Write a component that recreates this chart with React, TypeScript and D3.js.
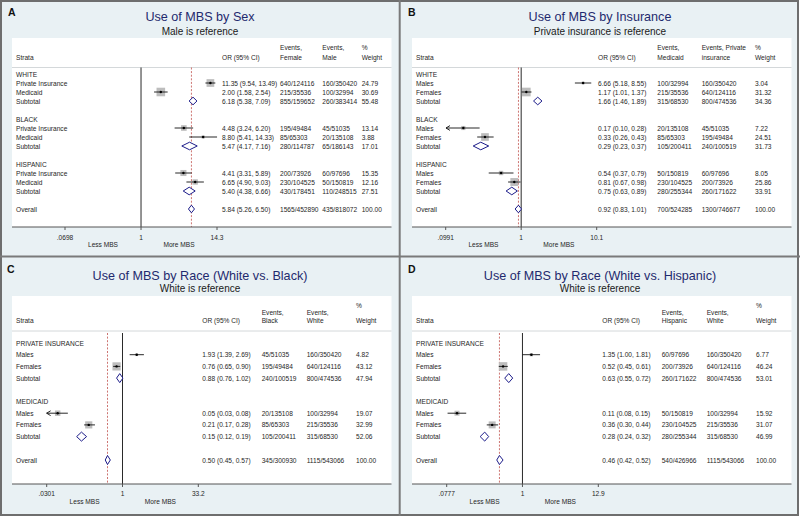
import React from "react";
import * as d3 from "d3";

// A: use of MBS by sex (male is reference)
const sexGroups = ["WHITE", "BLACK", "HISPANIC"];
const sexStrata = ["Private Insurance", "Medicaid", "Subtotal"];
const sexOR = [11.35, 2.0, 6.18, 4.48, 8.8, 5.47, 4.41, 6.65, 5.4, 5.84];
const sexLo = [9.54, 1.58, 5.38, 3.24, 5.41, 4.17, 3.31, 4.9, 4.38, 5.26];
const sexHi = [13.49, 2.54, 7.09, 6.2, 14.33, 7.16, 5.89, 9.03, 6.66, 6.5];
const sexEv1 = ["640/124116", "215/35536", "855/159652", "195/49484", "85/65303", "280/114787", "200/73926", "230/104525", "430/178451", "1565/452890"];
const sexEv2 = ["160/350420", "100/32994", "260/383414", "45/51035", "20/135108", "65/186143", "60/97696", "50/150819", "110/248515", "435/818072"];
const sexWeight = [24.79, 30.69, 55.48, 13.14, 3.88, 17.01, 15.35, 12.16, 27.51, 100];
const sexArrow = [false, false, false, false, false, false, false, false, false, false];
const sexTicks = [0.0698, 1, 14.3];
const sexTickLabels = [".0698", "1", "14.3"];

// B: use of MBS by insurance (private insurance is reference)
const insGroups = ["WHITE", "BLACK", "HISPANIC"];
const insStrata = ["Males", "Females", "Subtotal"];
const insOR = [6.66, 1.17, 1.66, 0.17, 0.33, 0.29, 0.54, 0.81, 0.75, 0.92];
const insLo = [5.18, 1.01, 1.46, 0.1, 0.26, 0.23, 0.37, 0.67, 0.63, 0.83];
const insHi = [8.55, 1.37, 1.89, 0.28, 0.43, 0.37, 0.79, 0.98, 0.89, 1.01];
const insEv1 = ["100/32994", "215/35536", "315/68530", "20/135108", "85/65303", "105/200411", "50/150819", "230/104525", "280/255344", "700/524285"];
const insEv2 = ["160/350420", "640/124116", "800/474536", "45/51035", "195/49484", "240/100519", "60/97696", "200/73926", "260/171622", "1300/746677"];
const insWeight = [3.04, 31.32, 34.36, 7.22, 24.51, 31.73, 8.05, 25.86, 33.91, 100];
const insArrow = [false, false, false, true, false, false, false, false, false, false];
const insTicks = [0.0991, 1, 10.1];
const insTickLabels = [".0991", "1", "10.1"];

// C: use of MBS by race, white vs. black (white is reference)
const blkGroups = ["PRIVATE INSURANCE", "MEDICAID"];
const blkStrata = ["Males", "Females", "Subtotal"];
const blkOR = [1.93, 0.76, 0.88, 0.05, 0.21, 0.15, 0.5];
const blkLo = [1.39, 0.65, 0.76, 0.03, 0.17, 0.12, 0.45];
const blkHi = [2.69, 0.9, 1.02, 0.08, 0.28, 0.19, 0.57];
const blkEv1 = ["45/51035", "195/49484", "240/100519", "20/135108", "85/65303", "105/200411", "345/300930"];
const blkEv2 = ["160/350420", "640/124116", "800/474536", "100/32994", "215/35536", "315/68530", "1115/543066"];
const blkWeight = [4.82, 43.12, 47.94, 19.07, 32.99, 52.06, 100];
const blkArrow = [false, false, false, true, false, false, false];
const blkTicks = [0.0301, 1, 33.2];
const blkTickLabels = [".0301", "1", "33.2"];

// D: use of MBS by race, white vs. hispanic (white is reference)
const hisGroups = ["PRIVATE INSURANCE", "MEDICAID"];
const hisStrata = ["Males", "Females", "Subtotal"];
const hisOR = [1.35, 0.52, 0.63, 0.11, 0.36, 0.28, 0.46];
const hisLo = [1.0, 0.45, 0.55, 0.08, 0.3, 0.24, 0.42];
const hisHi = [1.81, 0.61, 0.72, 0.15, 0.44, 0.32, 0.52];
const hisEv1 = ["60/97696", "200/73926", "260/171622", "50/150819", "230/104525", "280/255344", "540/426966"];
const hisEv2 = ["160/350420", "640/124116", "800/474536", "100/32994", "215/35536", "315/68530", "1115/543066"];
const hisWeight = [6.77, 46.24, 53.01, 15.92, 31.07, 46.99, 100];
const hisArrow = [false, false, false, false, false, false, false];
const hisTicks = [0.0777, 1, 12.9];
const hisTickLabels = [".0777", "1", "12.9"];

const FONT = "'Liberation Sans', Arial, sans-serif";
const BG = "#e9f1f4";
const NAVY = "#1f2a6e";
const DIAMOND = "#1c1c8a";
const TXT = "#262626";

type Row = {
  kind: "group" | "study" | "sub" | "blank" | "overall";
  label?: string;
  or?: number;
  lo?: number;
  hi?: number;
  ev1?: string;
  ev2?: string;
  wt?: number;
  arrow?: boolean;
};

function buildRows(groups, strata, or, lo, hi, ev1, ev2, wt, arrow): Row[] {
  const rows: Row[] = [];
  let k = 0;
  const item = (kind, label) => {
    rows.push({ kind, label, or: or[k], lo: lo[k], hi: hi[k], ev1: ev1[k], ev2: ev2[k], wt: wt[k], arrow: arrow[k] });
    k++;
  };
  groups.forEach((g) => {
    rows.push({ kind: "group", label: g });
    strata.forEach((s, j) => item(j === strata.length - 1 ? "sub" : "study", s));
    rows.push({ kind: "blank" });
  });
  item("overall", "Overall");
  return rows;
}

const topGeo = { titleY: 16.7, subY: 31, letterY: 11.5, whiteTop: 38, sepY: 67.5, h1: 47, h2: 57, pct: 47, row0: 74, step: 9, axisY: 227, tickY: 237, favY: 244, box: 1.55, dh: 3.8, lineTop: 67.5 };
const botGeo = { titleY: 275.7, subY: 288, letterY: 268.5, whiteTop: 296, sepY: 331, h1: 312.3, h2: 320.7, pct: 305, row0: 343, step: 11.7, axisY: 484, tickY: 493, favY: 501.7, box: 1.25, dh: 4.5, lineTop: 333 };

const panels = [
  {
    letter: "A", px: 0, geo: topGeo, title: "Use of MBS by Sex", subtitle: "Male is reference",
    headers: [["", "Strata"], ["", "OR (95% CI)"], ["Events,", "Female"], ["Events,", "Male"], ["%", "Weight"]],
    cols: [16, 222, 280, 322.3, 361.7], xr: [65, 217],
    rows: buildRows(sexGroups, sexStrata, sexOR, sexLo, sexHi, sexEv1, sexEv2, sexWeight, sexArrow),
    ticks: sexTicks, tickLabels: sexTickLabels,
  },
  {
    letter: "B", px: 400, geo: topGeo, title: "Use of MBS by Insurance", subtitle: "Private insurance is reference",
    headers: [["", "Strata"], ["", "OR (95% CI)"], ["Events,", "Medicaid"], ["Events, Private", "insurance"], ["%", "Weight"]],
    cols: [416, 598, 657.3, 701.7, 755], xr: [445.7, 596.7],
    rows: buildRows(insGroups, insStrata, insOR, insLo, insHi, insEv1, insEv2, insWeight, insArrow),
    ticks: insTicks, tickLabels: insTickLabels,
  },
  {
    letter: "C", px: 0, geo: botGeo, title: "Use of MBS by Race (White vs. Black)", subtitle: "White is reference",
    headers: [["", "Strata"], ["", "OR (95% CI)"], ["Events,", "Black"], ["Events,", "White"], ["%", "Weight"]],
    cols: [16, 202.3, 261.7, 306.7, 356], xr: [46.7, 198.3],
    rows: buildRows(blkGroups, blkStrata, blkOR, blkLo, blkHi, blkEv1, blkEv2, blkWeight, blkArrow),
    ticks: blkTicks, tickLabels: blkTickLabels,
  },
  {
    letter: "D", px: 400, geo: botGeo, title: "Use of MBS by Race (White vs. Hispanic)", subtitle: "White is reference",
    headers: [["", "Strata"], ["", "OR (95% CI)"], ["Events,", "Hispanic"], ["Events,", "White"], ["%", "Weight"]],
    cols: [416, 602.3, 661.7, 706.7, 756], xr: [446.7, 598.3],
    rows: buildRows(hisGroups, hisStrata, hisOR, hisLo, hisHi, hisEv1, hisEv2, hisWeight, hisArrow),
    ticks: hisTicks, tickLabels: hisTickLabels,
  },
];

const fmt = d3.format(".2f");

function Panel({ p }) {
  const g = p.geo;
  const x = d3.scaleLog().domain([p.ticks[0], p.ticks[2]]).range(p.xr);
  const y = (i) => g.row0 + i * g.step;
  const overall = p.rows[p.rows.length - 1];
  const left = p.px + 12;
  const right = p.px + 391.5;
  const fs = 6.6;
  const txt = (tx, ty, s, extra = {}) => (
    <text x={tx} y={ty} fontSize={fs} fill={TXT} dominantBaseline="central" {...extra}>{s}</text>
  );

  return (
    <g fontFamily={FONT}>
      <text x={p.px + (p.letter === "C" ? 7 : 8)} y={g.letterY} fontSize={10.5} fontWeight="bold" fill="#111" dominantBaseline="central">{p.letter}</text>
      <text x={p.px + 200} y={g.titleY} fontSize={12.6} fill={NAVY} textAnchor="middle" dominantBaseline="central">{p.title}</text>
      <text x={p.px + 200} y={g.subY} fontSize={10} fill="#1a1a1a" textAnchor="middle" dominantBaseline="central">{p.subtitle}</text>

      <rect x={left} y={g.whiteTop} width={right - left} height={g.axisY - g.whiteTop} fill="#fff" />
      <line x1={left} x2={right} y1={g.sepY} y2={g.sepY} stroke="#d4d8da" strokeWidth={1} />

      {p.headers.map((h, c) => (
        <g key={c}>
          {h[0] && txt(p.cols[c], c === 4 ? g.pct : g.h1, h[0])}
          {txt(p.cols[c], g.h2, h[1])}
        </g>
      ))}

      <line x1={x(1)} x2={x(1)} y1={g.lineTop} y2={g.axisY} stroke="#2a2a2a" strokeWidth={1} />
      <line x1={x(overall.or)} x2={x(overall.or)} y1={g.lineTop} y2={g.axisY} stroke="#c0504d" strokeWidth={0.8} strokeDasharray="2,1.6" />

      {p.rows.map((r, i) => {
        const ry = y(i);
        if (r.kind === "blank") return null;
        if (r.kind === "group") return <g key={i}>{txt(p.cols[0], ry, r.label)}</g>;
        const isDiamond = r.kind === "sub" || r.kind === "overall";
        const cx = x(r.or);
        let mark;
        if (isDiamond) {
          const d = `M${x(r.lo)},${ry}L${cx},${ry - g.dh}L${x(r.hi)},${ry}L${cx},${ry + g.dh}Z`;
          mark = <path d={d} fill="#fff" stroke={DIAMOND} strokeWidth={1} />;
        } else {
          const side = g.box * Math.sqrt(r.wt);
          const xl = x(r.lo);
          mark = (
            <g>
              <rect x={cx - side / 2} y={ry - side / 2} width={side} height={side} fill="#bdbdbd" />
              <line x1={xl} x2={x(r.hi)} y1={ry} y2={ry} stroke="#111" strokeWidth={0.9} />
              {r.arrow && <path d={`M${xl + 4},${ry - 2.4}L${xl},${ry}L${xl + 4},${ry + 2.4}`} fill="none" stroke="#111" strokeWidth={0.9} />}
              <circle cx={cx} cy={ry} r={1.2} fill="#000" />
            </g>
          );
        }
        return (
          <g key={i}>
            {mark}
            {txt(p.cols[0], ry, r.label)}
            {txt(p.cols[1], ry, `${fmt(r.or)} (${fmt(r.lo)}, ${fmt(r.hi)})`)}
            {txt(p.cols[2], ry, r.ev1)}
            {txt(p.cols[3], ry, r.ev2)}
            {txt(p.cols[4], ry, fmt(r.wt))}
          </g>
        );
      })}

      <line x1={left} x2={right} y1={g.axisY} y2={g.axisY} stroke="#555" strokeWidth={1} />
      {p.ticks.map((t, i) => (
        <g key={i}>
          <line x1={x(t)} x2={x(t)} y1={g.axisY} y2={g.axisY + 3} stroke="#555" strokeWidth={1} />
          {txt(x(t), g.tickY, p.tickLabels[i], { textAnchor: "middle" })}
        </g>
      ))}
      {txt((x(p.ticks[0]) + x(1)) / 2, g.favY, "Less MBS", { textAnchor: "middle" })}
      {txt((x(1) + x(p.ticks[2])) / 2, g.favY, "More MBS", { textAnchor: "middle" })}
    </g>
  );
}

export default function App() {
  return (
    <svg width={800} height={517} style={{ position: "absolute", left: 0, top: 0 }}>
      <rect x={0} y={0} width={800} height={517} fill="#fff" />
      <rect x={1} y={1} width={797} height={514} fill={BG} stroke="#6e6e6e" strokeWidth={2} />
      <line x1={399.7} x2={399.7} y1={0} y2={516} stroke="#7a7a7a" strokeWidth={2} />
      <line x1={0} x2={800} y1={256.5} y2={256.5} stroke="#7a7a7a" strokeWidth={2} />
      {panels.map((p) => <Panel key={p.letter} p={p} />)}
    </svg>
  );
}
